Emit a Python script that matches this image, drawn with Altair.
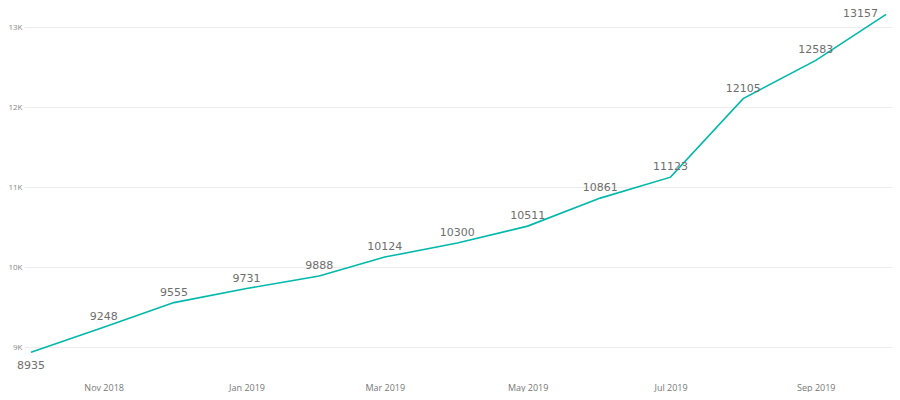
import altair as alt
import pandas as pd

months = ["2018-10-01", "2018-11-01", "2018-12-01", "2019-01-01", "2019-02-01", "2019-03-01",
          "2019-04-01", "2019-05-01", "2019-06-01", "2019-07-01", "2019-08-01", "2019-09-01",
          "2019-10-01"]
values = [8935, 9248, 9555, 9731, 9888, 10124, 10300, 10511, 10861, 11123, 12105, 12583, 13157]
y_ticks = [9000, 10000, 11000, 12000, 13000]
x_ticks = [(2018, 11), (2019, 1), (2019, 3), (2019, 5), (2019, 7), (2019, 9)]

df = pd.DataFrame({"month": months, "value": values})
df["idx"] = range(len(df))
n = len(df)

x_enc = alt.X(
    "month:T",
    scale=alt.Scale(type="utc", domain=[
        alt.DateTime(year=2018, month=9, date=28, hours=0, utc=True),
        alt.DateTime(year=2019, month=10, date=3, hours=13, utc=True)]),
    axis=alt.Axis(
        title=None, labelExpr="utcFormat(datum.value, '%b %Y')",
        values=[alt.DateTime(year=y, month=m, date=1, utc=True) for y, m in x_ticks],
        domain=False, ticks=False, grid=False, labelFontSize=9, labelColor="#777",
        labelFont="Open Sans", labelPadding=5),
)
y_enc = alt.Y(
    "value:Q",
    scale=alt.Scale(domain=[8612.5, 13200], nice=False, zero=False),
    axis=alt.Axis(
        title=None, values=y_ticks, labelExpr="datum.value / 1000 + 'K'",
        domain=False, ticks=False, grid=True, gridColor="#ececec", gridWidth=1,
        labelFontSize=8, labelColor="#888", labelFont="Open Sans", labelPadding=2),
)

base = alt.Chart(df)
line = base.mark_line(color="#01B8AA", strokeWidth=1.6).encode(x=x_enc, y=y_enc)

text_style = dict(font="DejaVu Sans", fontSize=11, color="#6e6e6e")
mid_labels = base.transform_filter(
    (alt.datum.idx > 0) & (alt.datum.idx < n - 1)
).mark_text(baseline="bottom", dy=-5, **text_style).encode(
    x="month:T", y="value:Q", text="value:Q")
first_label = base.transform_filter(alt.datum.idx == 0).mark_text(
    baseline="top", dy=8, **text_style).encode(x="month:T", y="value:Q", text="value:Q")
last_label = base.transform_filter(alt.datum.idx == n - 1).mark_text(
    baseline="top", align="right", dy=-6, dx=-8, **text_style).encode(
    x="month:T", y="value:Q", text="value:Q")

chart = alt.layer(line, mid_labels, first_label, last_label).properties(
    width=868, height=367,
    autosize=alt.AutoSizeParams(type="none"),
    padding={"left": 16, "top": 3, "right": 0, "bottom": 14},
).configure_view(stroke=None)

chart.save("out.html", embed_options={"renderer": "svg", "actions": False})
